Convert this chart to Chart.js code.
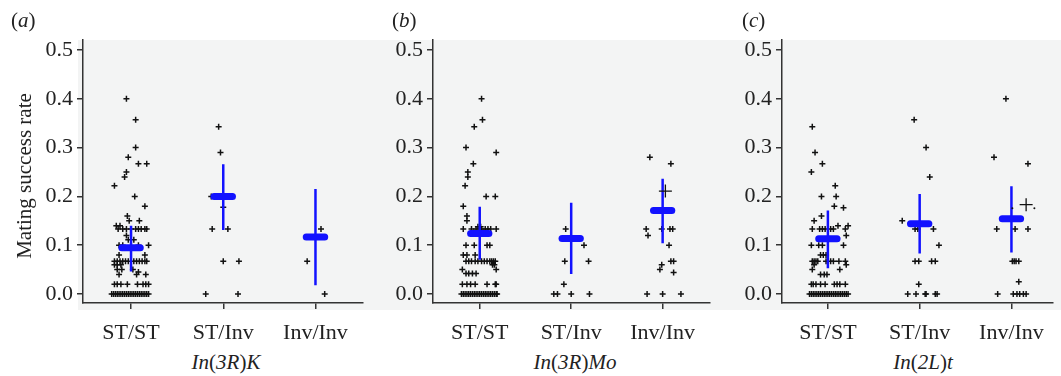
<!DOCTYPE html>
<html>
<head>
<meta charset="utf-8">
<script src="https://cdn.jsdelivr.net/npm/chart.js@4"></script>
<style>
  body { margin: 0; background: #fff; font-family: "Liberation Serif", "Times New Roman", serif; color: #222; }
  #wrap { position: relative; width: 1061px; height: 376px; overflow: hidden; }
  #bg { position: absolute; left: 78px; top: 40px; width: 983px; height: 270px; background: #f3f4f4; }
  .panel { position: absolute; top: 0; }
  .txt { position: absolute; font-size: 21px; line-height: 24px; white-space: nowrap; }
  .sub { width: 200px; text-align: center; top: 350px; }
</style>
</head>
<body>
<div id="wrap">
  <div id="bg"></div>
  <div class="panel" style="left:0px"><canvas id="chartA" width="368" height="345"></canvas></div>
  <div class="panel" style="left:350px"><canvas id="chartB" width="368" height="345"></canvas></div>
  <div class="panel" style="left:700px"><canvas id="chartC" width="361" height="345"></canvas></div>

  <div class="txt" style="left:11px;top:8px">(<i>a</i>)</div>
  <div class="txt" style="left:392px;top:8px">(<i>b</i>)</div>
  <div class="txt" style="left:742px;top:8px">(<i>c</i>)</div>
  <div class="txt" style="left:-76px;top:164px;width:200px;text-align:center;transform:rotate(-90deg)">Mating success rate</div>
  <div class="txt sub" style="left:126px"><i>In</i>(<i>3R</i>)<i>K</i></div>
  <div class="txt sub" style="left:475px"><i>In</i>(<i>3R</i>)<i>Mo</i></div>
  <div class="txt sub" style="left:823px"><i>In</i>(<i>2L</i>)<i>t</i></div>
</div>

<script>
// categories and tick labels
const categories = ['ST/ST', 'ST/Inv', 'Inv/Inv'];
const yTicks = [0, 0.1, 0.2, 0.3, 0.4, 0.5];

// each row: [value, jitter offsets of the points with that value...]
const aStSt = [
  [0.40, -0.05], [0.357, 0.05], [0.30, 0.05], [0.28, -0.03], [0.267, 0.08, 0.17],
  [0.25, -0.05], [0.24, -0.07], [0.222, -0.18], [0.20, 0.04], [0.18, 0.15],
  [0.16, -0.04], [0.15, -0.02, 0.09], [0.14, -0.16, -0.12],
  [0.133, -0.14, -0.09, -0.05, 0, 0.05, 0.08, 0.11, 0.15, 0.17],
  [0.12, -0.05], [0.111, -0.03, 0.03], [0.10, -0.13, -0.09, 0.08, 0.19], [0.08, -0.13, 0.15],
  [0.067, -0.18, -0.15, -0.12, -0.09, -0.06, -0.03, 0.03, 0.06, 0.09, 0.12, 0.15, 0.17],
  [0.06, -0.18, -0.15, -0.11], [0.05, -0.15, -0.10, 0.02], [0.045, 0.08], [0.04, -0.13, 0.06, 0.16],
  [0.02, -0.18, -0.15, -0.11, -0.04, 0.07, 0.13, 0.16, 0.19],
  [0, -0.21, -0.19, -0.17, -0.15, -0.13, -0.11, -0.09, -0.07, -0.05, -0.03, -0.01, 0.01, 0.03, 0.05, 0.07, 0.09, 0.11, 0.13, 0.15, 0.17, 0.19]
];
const aStInv = [[0.343, -0.05], [0.29, -0.03], [0.2, -0.13], [0.178, 0], [0.133, -0.12, 0.05], [0.067, 0, 0.17], [0, -0.19, 0.16]];
const aInvInv = [[0.133, 0.06], [0.067, -0.09], [0, 0.1]];

const bStSt = [
  [0.40, 0.02], [0.357, 0.03], [0.343, -0.06], [0.30, -0.15], [0.29, 0.18], [0.267, -0.07],
  [0.25, -0.13], [0.24, -0.13], [0.222, -0.16], [0.20, 0.07, 0.17], [0.18, -0.18],
  [0.16, -0.14], [0.15, -0.14], [0.138, -0.02, 0.01],
  [0.133, -0.18, -0.09, -0.04, 0.02, 0.06, 0.09, 0.12, 0.18],
  [0.10, -0.15, -0.06, 0.08, 0.11], [0.08, -0.18, -0.14, -0.05],
  [0.067, -0.15, -0.12, -0.09, -0.05, -0.02, 0.02, 0.05, 0.08, 0.11, 0.13, 0.15, 0.17],
  [0.06, 0.14, 0.16], [0.05, -0.19, 0.18], [0.042, -0.15, -0.12, -0.08, -0.04],
  [0.02, -0.19, -0.14, -0.10, -0.05, 0.08, 0.17, 0.18],
  [0, -0.2, -0.18, -0.16, -0.14, -0.12, -0.1, -0.08, -0.06, -0.04, -0.02, 0, 0.02, 0.04, 0.06, 0.08, 0.1, 0.12, 0.14, 0.16, 0.18, 0.19]
];
const bStInv = [[0.133, -0.06], [0.10, 0.14], [0.067, -0.07, 0.19], [0.02, -0.08], [0, -0.19, -0.15, 0, 0.2]];
const bInvInv = [
  [0.28, -0.14], [0.267, 0.09], [0.133, -0.18, -0.01, 0.08, 0.11], [0.12, -0.16], [0.10, 0.07],
  [0.067, 0.09, 0.12], [0.06, -0.01], [0.05, -0.03], [0.044, 0.12], [0, -0.17, 0, 0.2]
];

const cStSt = [
  [0.343, -0.17], [0.29, -0.14], [0.267, -0.06], [0.25, -0.18], [0.222, 0.08], [0.20, -0.07, 0.09],
  [0.18, 0.07], [0.177, 0.17], [0.16, -0.07], [0.15, -0.15], [0.14, 0.11, 0.22],
  [0.133, -0.17, -0.09, -0.06, -0.03, 0.03, 0.06, 0.19], [0.12, 0.2],
  [0.10, -0.18, -0.1, -0.06, 0.17], [0.08, -0.08, -0.05, -0.02],
  [0.067, -0.17, -0.15, -0.13, -0.11, -0.02, 0.03, 0.06, 0.12, 0.19],
  [0.06, -0.15, 0.2], [0.05, -0.17, 0.13], [0.04, -0.08, -0.04, -0.01],
  [0.02, -0.18, -0.16, -0.13, -0.08, -0.03, 0.07, 0.1, 0.13, 0.19],
  [0, -0.2, -0.18, -0.16, -0.14, -0.12, -0.1, -0.08, -0.06, -0.04, -0.02, 0, 0.02, 0.04, 0.06, 0.08, 0.1, 0.12, 0.14, 0.16, 0.18, 0.2, 0.22]
];
const cStInv = [
  [0.357, -0.06], [0.30, 0.07], [0.24, 0.11], [0.15, -0.19], [0.133, -0.05, -0.02, 0.15], [0.10, 0.21],
  [0.067, -0.05, -0.01, 0.13, 0.17], [0.02, -0.01], [0, -0.13, -0.04, 0.06, 0.07, 0.17, 0.19]
];
const cInvInv = [
  [0.40, -0.06], [0.28, -0.19], [0.267, 0.18], [0.133, -0.16, 0.04, 0.18],
  [0.067, 0.01, 0.03, 0.05, 0.08], [0.025, 0.08], [0, -0.15, 0.02, 0.06, 0.09, 0.13, 0.16]
];

// group means and error bar ends
const aMeans = [0.095, 0.2, 0.117];
const aLow = [0.046, 0.131, 0.018];
const aHigh = [0.140, 0.266, 0.215];
const bMeans = [0.124, 0.114, 0.171];
const bLow = [0.07, 0.041, 0.104];
const bHigh = [0.179, 0.187, 0.236];
const cMeans = [0.113, 0.144, 0.154];
const cLow = [0.053, 0.083, 0.085];
const cHigh = [0.171, 0.205, 0.221];

// odd larger "+" marks in panels b and c, and the small dots next to the one in c
const bBigCross = [[0.211, 3.03]];
const cBigCross = [[0.183, 3.16]];
const cDots = [[0.176, 3.01], [0.176, 3.25]];

function toPoints(rows, cat) {
  const pts = [];
  rows.forEach(r => {
    for (let i = 1; i < r.length; i++) pts.push({ x: cat + r[i], y: r[0] });
  });
  return pts;
}

const BLUE = '#1212ff';
const INK = '#222';

function makePanel(id, groups, means, lows, highs, bigCross, dots, xMin, xMax, axisW) {
  const datasets = [];
  means.forEach((m, i) => {
    const c = i + 1;
    datasets.push({
      data: [{ x: c - 0.1, y: m }, { x: c + 0.1, y: m }],
      showLine: true, borderColor: BLUE, borderWidth: 7, borderCapStyle: 'round',
      pointRadius: 0, order: 0
    });
    datasets.push({
      data: [{ x: c, y: lows[i] }, { x: c, y: highs[i] }],
      showLine: true, borderColor: BLUE, borderWidth: 2.5,
      pointRadius: 0, order: 0
    });
  });
  let pts = [];
  groups.forEach((g, i) => { pts = pts.concat(toPoints(g, i + 1)); });
  datasets.push({
    data: pts, pointStyle: 'cross', pointRadius: 3, borderWidth: 1.5,
    borderColor: '#111', backgroundColor: '#111', order: 1
  });
  if (bigCross.length) {
    datasets.push({
      data: bigCross.map(p => ({ x: p[1], y: p[0] })), pointStyle: 'cross', pointRadius: 6.5,
      borderWidth: 1.3, borderColor: '#111', order: -1
    });
  }
  if (dots.length) {
    datasets.push({
      data: dots.map(p => ({ x: p[1], y: p[0] })), pointStyle: 'circle', pointRadius: 1,
      borderWidth: 0, backgroundColor: '#111', order: -1
    });
  }

  const tickFont = { family: '"Liberation Serif", "Times New Roman", serif', size: 22 };

  return new Chart(document.getElementById(id), {
    type: 'scatter',
    data: { datasets },
    options: {
      responsive: false,
      animation: false,
      layout: { padding: { top: 40, left: 0, right: 0, bottom: 0 } },
      plugins: { legend: { display: false }, tooltip: { enabled: false } },
      scales: {
        x: {
          type: 'linear', min: xMin, max: xMax,
          afterBuildTicks: s => { s.ticks = [1, 2, 3].map(v => ({ value: v })); },
          afterFit: s => { s.height = 42; },
          ticks: { color: INK, font: tickFont, padding: 11, maxRotation: 0, autoSkip: false,
                   callback: v => categories[Math.round(v) - 1] },
          grid: { drawOnChartArea: false, drawTicks: true, tickLength: 6, color: '#333', lineWidth: 1.5 },
          border: { color: '#333', width: 1.5 }
        },
        y: {
          min: -0.0184, max: 0.5205,
          afterBuildTicks: s => { s.ticks = yTicks.map(v => ({ value: v })); },
          afterFit: s => { s.width = axisW; },
          ticks: { color: INK, font: tickFont, padding: 4, callback: v => v.toFixed(1) },
          grid: { drawOnChartArea: false, drawTicks: true, tickLength: 6, color: '#333', lineWidth: 1.5 },
          border: { color: '#333', width: 1.5 }
        }
      }
    }
  });
}

makePanel('chartA', [aStSt, aStInv, aInvInv], aMeans, aLow, aHigh, [], [], 0.479, 3.51, 83);
makePanel('chartB', [bStSt, bStInv, bInvInv], bMeans, bLow, bHigh, bBigCross, [], 0.489, 3.52, 83);
makePanel('chartC', [cStSt, cStInv, cInvInv], cMeans, cLow, cHigh, cBigCross, cDots, 0.5, 3.455, 82);
</script>
</body>
</html>
